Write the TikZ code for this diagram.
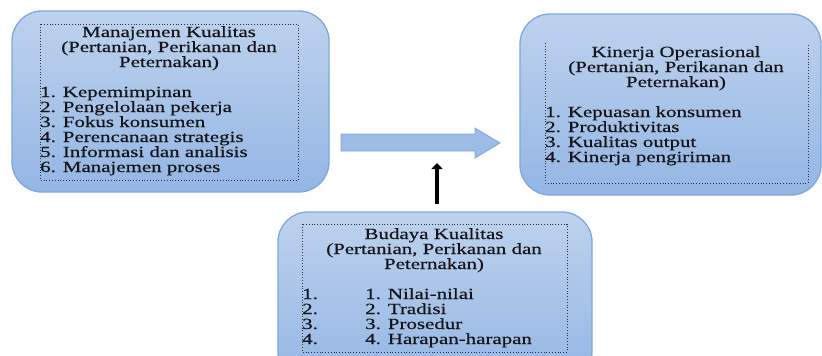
\documentclass[tikz,border=0pt]{standalone}
\usepackage{fontspec}
\setmainfont{Liberation Serif}[FakeStretch=1.35, FakeBold=0.5]
\usetikzlibrary{arrows.meta}
\definecolor{boxtop}{RGB}{190,210,238}
\definecolor{boxbot}{RGB}{148,182,228}
\definecolor{boxline}{RGB}{125,168,222}
\definecolor{txtcol}{RGB}{20,20,25}
\begin{document}
\begin{tikzpicture}[x=1pt,y=-1pt,
  box/.style={draw=boxline, line width=1.3pt, rounded corners=30pt, top color=boxtop, bottom color=boxbot, inner sep=0pt},
  dots/.style={draw=black!80, line width=0.8pt, dotted},
  txt/.style={inner sep=0pt, text=txtcol, font=\fontsize{15.5}{15}\selectfont},
  blockarrow/.style={draw=boxline, line width=0.8pt, fill=boxbot!80!boxtop}
]
\clip (0,0) rectangle (822,356);
\fill[white] (0,0) rectangle (822,356);

% boxes
\node[box, minimum width=317pt, minimum height=181pt] (mk) at (170.5,101.5) {};
\node[box, minimum width=301pt, minimum height=181pt] (ko) at (670.5,104.5) {};
\node[box, minimum width=314pt, minimum height=170pt] (bk) at (435,297) {};

% dotted frames
\draw[dots] (40,24) rectangle (298,180);
\draw[dots] (545,43) -- (545,183) -- (808,183) -- (808,43);
\draw[dots] (302,224) rectangle (567,352);

% left texts
\foreach \t [count=\i] in {Manajemen Kualitas, {(Pertanian, Perikanan dan}, Peternakan)}
  \node[txt, anchor=base] (mkt\i) at (169, 22+15*\i) {\t};
\foreach \t [count=\i] in {1. Kepemimpinan, 2. Pengelolaan pekerja, 3. Fokus konsumen, 4. Perencanaan strategis, 5. Informasi dan analisis, 6. Manajemen proses}
  \node[txt, anchor=base west] (mkl\i) at (40, 82+15*\i) {\t};

% right texts
\foreach \t [count=\i] in {Kinerja Operasional, {(Pertanian, Perikanan dan}, Peternakan)}
  \node[txt, anchor=base] (kot\i) at (676, 42+15*\i) {\t};
\foreach \t [count=\i] in {1. Kepuasan konsumen, 2. Produktivitas, 3. Kualitas output, 4. Kinerja pengiriman}
  \node[txt, anchor=base west] (kol\i) at (545, 102+15*\i) {\t};

% bottom texts
\foreach \t [count=\i] in {Budaya Kualitas, {(Pertanian, Perikanan dan}, Peternakan)}
  \node[txt, anchor=base] (bkt\i) at (434, 224+15*\i) {\t};
\foreach \t [count=\i] in {1. Nilai-nilai, 2. Tradisi, 3. Prosedur, 4. Harapan-harapan}{
  \node[txt, anchor=base west] (bkn\i) at (302, 284+15*\i) {\i.};
  \node[txt, anchor=base west] (bkl\i) at (365, 284+15*\i) {\t};
}

% block arrow
\draw[blockarrow] (341,134) -- (475,134) -- (475,128) -- (500,143) -- (475,158) -- (475,151) -- (341,151) -- cycle;

% black arrow
\coordinate (vtail) at (437,204);
\coordinate (vtip) at (437,163);
\draw[line width=4.5pt, -{Triangle[width=11pt,length=6pt]}] (vtail) -- (vtip);
\end{tikzpicture}
\end{document}
